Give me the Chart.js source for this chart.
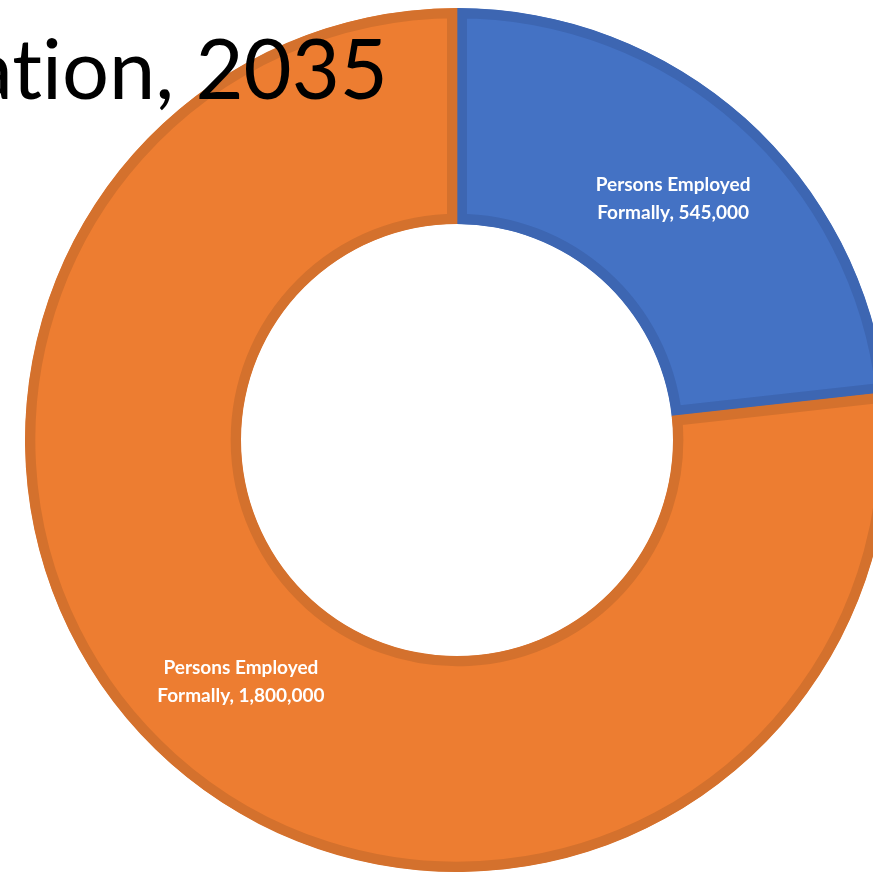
<!DOCTYPE html>
<html>
<head>
<meta charset="utf-8">
<script src="https://cdn.jsdelivr.net/npm/chart.js@4/dist/chart.umd.min.js"></script>
<style>
  html, body { margin: 0; padding: 0; background: #fff; overflow: hidden; width: 873px; height: 874px; }
  #wrap { position: absolute; left: 17px; top: 0px; width: 880px; height: 880px; }
  #title { position: absolute; right: 485px; top: 26px; font-family: Lato, 'Open Sans', sans-serif; font-size: 83px; color: #000; white-space: nowrap; z-index: 2; line-height: 1; font-variant-ligatures: none; }
</style>
</head>
<body>
<div id="title">ation, 2035</div>
<div id="wrap"><canvas id="chart"></canvas></div>
<script>
var categories = ['Persons Employed Formally', 'Persons Employed Formally'];
var values = [545000, 1800000];
var fills = ['#4472c4', '#ed7d31'];
var borders = ['#3d66b2', '#d4712d'];

// label in the middle of each ring slice, like Excel data labels
var sliceLabels = {
    id: 'sliceLabels',
    afterDatasetsDraw: function(chart){
        var ctx = chart.ctx;
        var meta = chart.getDatasetMeta(0);
        ctx.save();
        ctx.fillStyle = '#fff';
        ctx.font = 'bold 19px Lato, "Open Sans", sans-serif';
        ctx.textAlign = 'center';
        ctx.textBaseline = 'middle';
        meta.data.forEach(function(arc, i){
            var p = arc.getCenterPoint();
            var words = categories[i].split(' ');
            var line1 = words.slice(0, 2).join(' ');
            var line2 = words.slice(2).join(' ') + ', ' + values[i].toLocaleString('en-US');
            ctx.fillText(line1, p.x, p.y - 14);
            ctx.fillText(line2, p.x, p.y + 14);
        });
        ctx.restore();
    }
};

var myChart = new Chart(document.getElementById('chart'), {
    type: 'doughnut',
    data: {
        labels: categories,
        datasets: [{
            data: values,
            backgroundColor: fills,
            borderColor: borders,
            borderWidth: 10,
            borderAlign: 'inner'
        }]
    },
    options: {
        responsive: true,
        maintainAspectRatio: false,
        animation: false,
        cutout: '50%',
        layout: { padding: 8 },
        plugins: {
            legend: { display: false },
            tooltip: { enabled: false }
        }
    },
    plugins: [sliceLabels]
});
</script>
</body>
</html>
